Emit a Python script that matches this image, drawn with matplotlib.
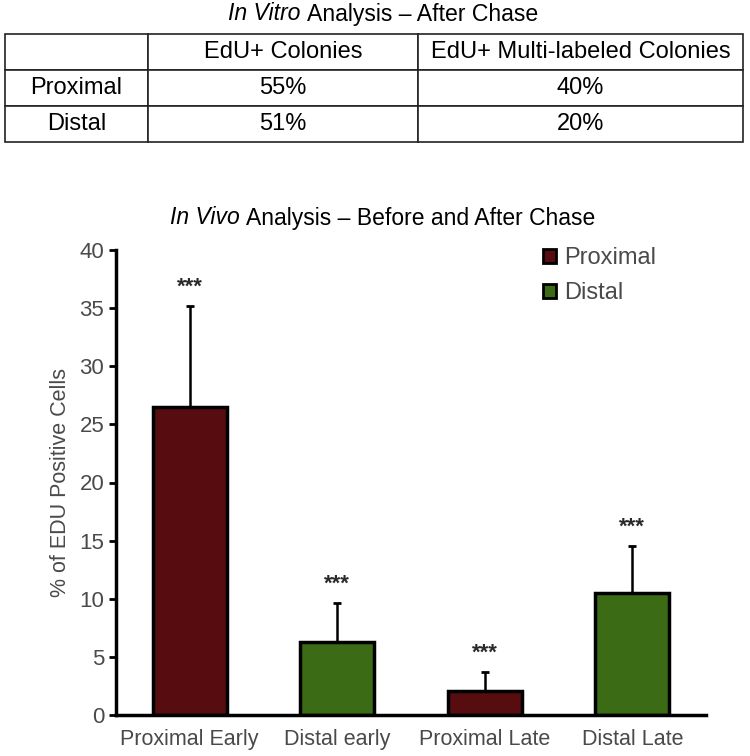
import matplotlib.pyplot as plt
from matplotlib.patches import Patch
import numpy as np

plt.rcParams['font.family'] = ['Liberation Sans', 'DejaVu Sans']

# in vitro table
table_cols = ['', 'EdU+ Colonies', 'EdU+ Multi-labeled Colonies']
table_rows = ['Proximal', 'Distal']
colonies = ['55%', '51%']
multi_colonies = ['40%', '20%']

# in vivo bars
groups = ['Proximal Early', 'Distal early', 'Proximal Late', 'Distal Late']
values = [26.5, 6.3, 2.1, 10.5]
errors = [8.7, 3.3, 1.6, 4.0]
kinds = ['Proximal', 'Distal', 'Proximal', 'Distal']

COLORS = {'Proximal': '#570d0f', 'Distal': '#3b6b14'}
GRAY = '#4a4a4a'

fig = plt.figure(figsize=(7.5, 7.56), dpi=100)
renderer = fig.canvas.get_renderer()


def split_title(x_px, y_px, italic, rest, size):
    # italic part followed by the regular part, placed by pixel coords
    t = fig.text(x_px / 750, 1 - y_px / 756, italic, ha='left', va='center',
                 fontsize=size, style='italic')
    w = t.get_window_extent(renderer).width
    fig.text((x_px + w + 0.28 * size * 100 / 72) / 750, 1 - y_px / 756, rest,
             ha='left', va='center', fontsize=size)


# ---- table ----
split_title(228, 14, 'In Vitro', 'Analysis \u2013 After Chase', 16.6)

tax = fig.add_axes([0.0067, 1 - 142 / 756, 0.984, 108 / 756])
tax.axis('off')
cell_text = [table_cols] + [[r, a, b] for r, a, b in zip(table_rows, colonies, multi_colonies)]
tbl = tax.table(cellText=cell_text, cellLoc='center', bbox=[0, 0, 1, 1],
                colWidths=[143, 270, 325])
tbl.auto_set_font_size(False)
tbl.set_fontsize(17)
for cell in tbl.get_celld().values():
    cell.set_linewidth(1.2)
    cell.set_edgecolor('#222222')

# ---- bar chart ----
ax = fig.add_axes([116 / 750, 1 - 715 / 756, 590 / 750, 465 / 756])
x = np.arange(len(groups))
bar_colors = [COLORS[k] for k in kinds]
ax.bar(x, values, width=0.5, color=bar_colors, edgecolor='black', linewidth=2.5, zorder=2)
ax.errorbar(x, values, yerr=[np.zeros(len(errors)), errors], fmt='none', ecolor='black',
            elinewidth=1.8, capsize=3, capthick=2, zorder=1)
for xi, v, e in zip(x, values, errors):
    ax.text(xi, v + e + 1.15, '***', ha='center', va='baseline', fontsize=16,
            fontweight='bold', color='#2a2a2a')

ax.set_xlim(-0.5, 3.5)
ax.set_ylim(0, 40)
ax.set_yticks(range(0, 41, 5))
ax.set_xticks(x)
ax.set_xticklabels(groups, fontsize=15.5, color=GRAY)
ax.tick_params(axis='y', labelsize=16, labelcolor=GRAY, length=5, width=2, direction='out')
ax.tick_params(axis='x', length=0, pad=10)
for side in ['top', 'right']:
    ax.spines[side].set_visible(False)
ax.spines['left'].set_linewidth(2.5)
ax.spines['bottom'].set_linewidth(2.5)
ax.set_ylabel('% of EDU Positive Cells', fontsize=15.5, color=GRAY, labelpad=6)

split_title(170, 218, 'In Vivo', 'Analysis \u2013 Before and After Chase', 16.5)

handles = [Patch(facecolor=COLORS[k], edgecolor='black', linewidth=2, label=k)
           for k in ['Proximal', 'Distal']]
ax.legend(handles=handles, loc='upper left', bbox_to_anchor=(543 / 750, 1 - 247 / 756),
          bbox_transform=fig.transFigure, frameon=False, fontsize=17, handlelength=0.55,
          handleheight=0.55, handletextpad=0.35, labelspacing=0.55, borderaxespad=0,
          borderpad=0, labelcolor=GRAY)

fig.savefig('out.png', dpi=100)
